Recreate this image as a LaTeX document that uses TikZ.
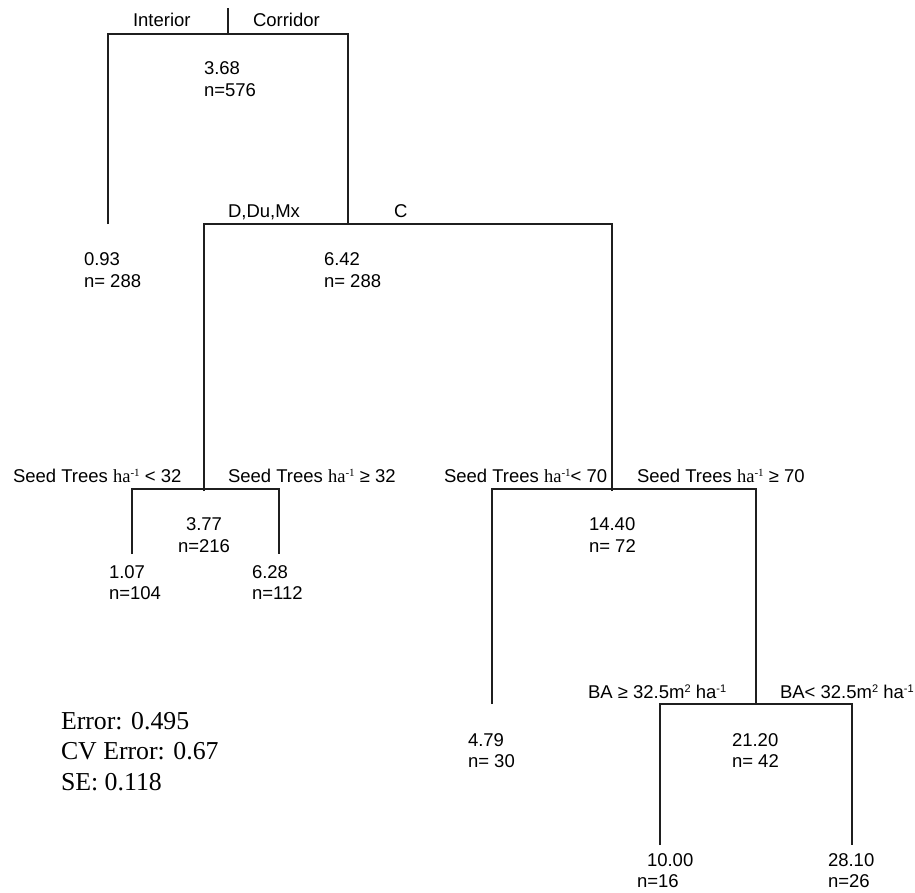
\documentclass[tikz,border=0pt]{standalone}
\usepackage{fontspec}
\setmainfont{Liberation Sans}
\newfontfamily\serifTNR{Liberation Serif}
\newcommand{\supx}[1]{\raisebox{0.6ex}{\fontsize{11}{11}\selectfont #1}}
\begin{document}
\begin{tikzpicture}[x=1pt,y=-1pt,
  branch/.style={line width=1.7pt,draw=black!88},
  lbl/.style={anchor=base west,inner sep=0pt,outer sep=0pt,font=\fontsize{18.5}{22}\selectfont},
  stat/.style={anchor=base west,inner sep=0pt,outer sep=0pt,font=\serifTNR\fontsize{25.8}{30}\selectfont}]
\useasboundingbox (0,0) rectangle (915,892);
% split points and leaf ends
\coordinate (r0) at (228,8);
\coordinate (r) at (228,34);
\coordinate (leafA) at (108,224);
\coordinate (s2) at (348,224);
\coordinate (s3top) at (204,491);
\coordinate (s3) at (204,489);
\coordinate (s4top) at (612,491);
\coordinate (s4) at (612,489);
\coordinate (leafB) at (132,554);
\coordinate (leafC) at (279,554);
\coordinate (leafD) at (492,704);
\coordinate (s5) at (756,704);
\coordinate (leafE) at (660,845);
\coordinate (leafF) at (852,845);
% branches
\draw[branch] (r0) -- (r);
\draw[branch] (leafA) |- (r) -| (s2);
\draw[branch] (s3top) -- (s3);
\draw[branch] (s3) |- (s2) -| (s4);
\draw[branch] (leafB) |- (s3) -| (leafC);
\draw[branch] (s4top) -- (s4);
\draw[branch] (leafD) |- (s4) -| (s5);
\draw[branch] (leafE) |- (s5) -| (leafF);
% split labels
\node[lbl] (tInt) at (133,26) {Interior};
\node[lbl] (tCor) at (253,26) {Corridor};
\node[lbl] (tD) at (228,217) {D,Du,Mx};
\node[lbl] (tC) at (394,217) {C};
\node[lbl] (tS1) at (13,482) {Seed Trees {\serifTNR ha\supx{-1}} {<} 32};
\node[lbl] (tS2) at (228,482) {Seed Trees {\serifTNR ha\supx{-1}} ≥ 32};
\node[lbl] (tS3) at (444,482) {Seed Trees {\serifTNR ha\supx{-1}}{<} 70};
\node[lbl] (tS4) at (637,482) {Seed Trees {\serifTNR ha\supx{-1}} ≥ 70};
\node[lbl] (tB1) at (588,698) {BA ≥ 32.5m\supx{2} ha\supx{-1}};
\node[lbl] (tB2) at (780,698) {BA{<} 32.5m\supx{2} ha\supx{-1}};
% node values
\node[lbl] (v0a) at (204,74) {3.68};
\node[lbl] (v0b) at (204,96) {n=576};
\node[lbl] (v1a) at (84,265) {0.93};
\node[lbl] (v1b) at (84,287) {n= 288};
\node[lbl] (v2a) at (324,265) {6.42};
\node[lbl] (v2b) at (324,287) {n= 288};
\node[lbl] (v3a) at (186,530) {3.77};
\node[lbl] (v3b) at (178,552) {n=216};
\node[lbl] (v4a) at (109,578) {1.07};
\node[lbl] (v4b) at (109,599) {n=104};
\node[lbl] (v5a) at (252,578) {6.28};
\node[lbl] (v5b) at (252,599) {n=112};
\node[lbl] (v6a) at (589,530) {14.40};
\node[lbl] (v6b) at (589,552) {n= 72};
\node[lbl] (v7a) at (468,746) {4.79};
\node[lbl] (v7b) at (468,767) {n= 30};
\node[lbl] (v8a) at (732,746) {21.20};
\node[lbl] (v8b) at (732,767) {n= 42};
\node[lbl] (v9a) at (647,866) {10.00};
\node[lbl] (v9b) at (637,887) {n=16};
\node[lbl] (v10a) at (828,866) {28.10};
\node[lbl] (v10b) at (828,887) {n=26};
% statistics
\node[stat] (e1) at (61,729) {Error: 0.495};
\node[stat] (e2) at (61,759) {CV Error: 0.67};
\node[stat] (e3) at (61,790) {SE: 0.118};
\end{tikzpicture}
\end{document}
